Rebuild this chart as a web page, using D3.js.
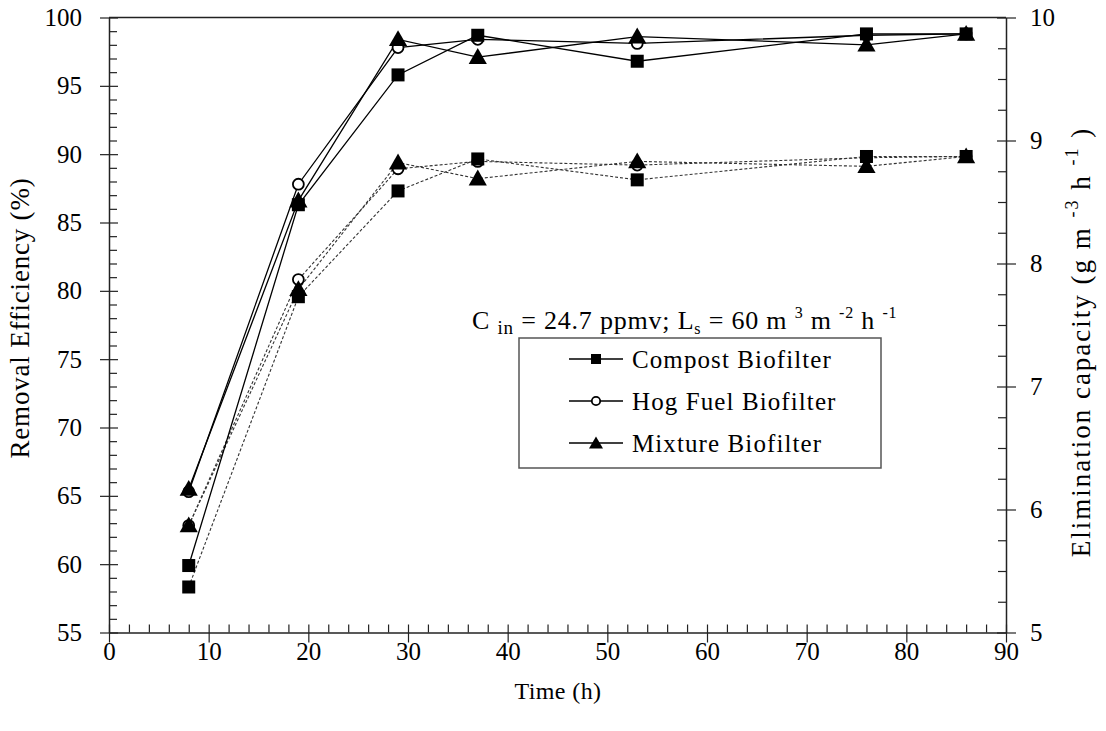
<!DOCTYPE html>
<html>
<head>
<meta charset="utf-8">
<script src="https://cdn.jsdelivr.net/npm/d3@7"></script>
<style>
  body { margin: 0; background: #fff; }
  svg text { font-family: "Liberation Serif", "DejaVu Serif", serif; fill: #000; }
  .axis path, .axis line { stroke: #222; }
</style>
</head>
<body>
<svg id="chart" width="1106" height="731"></svg>
<script>
// time of sampling (h)
var timeH = [8, 19, 29, 37, 53, 76, 86];

// removal efficiency (%) - solid lines, left axis
var reCompost = [59.9, 86.3, 95.8, 98.7, 96.8, 98.8, 98.8];
var reHogFuel = [65.3, 87.8, 97.8, 98.4, 98.1, 98.7, 98.8];
var reMixture = [65.5, 86.6, 98.4, 97.1, 98.6, 98.0, 98.8];

// elimination capacity (g m-3 h-1) - dashed lines, right axis
var ecCompost = [5.37, 7.73, 8.59, 8.85, 8.68, 8.87, 8.87];
var ecHogFuel = [5.87, 7.87, 8.77, 8.83, 8.80, 8.86, 8.87];
var ecMixture = [5.87, 7.79, 8.82, 8.69, 8.83, 8.79, 8.87];

var seriesNames = ["Compost Biofilter", "Hog Fuel Biofilter", "Mixture Biofilter"];
var seriesMarks = ["square", "circle", "triangle"];

var xTicks = d3.range(0, 91, 10);
var yLeftTicks = d3.range(55, 101, 5);
var yRightTicks = d3.range(5, 11, 1);

var serif = '"Liberation Serif", "Times New Roman", serif';
var svg = d3.select("#chart");
var pLeft = 109, pRight = 1006, pTop = 17.5, pBottom = 632.5;

var x = d3.scaleLinear().domain([0, 90]).range([pLeft, pRight]);
var yL = d3.scaleLinear().domain([55, 100]).range([pBottom, pTop]);
var yR = d3.scaleLinear().domain([5, 10]).range([pBottom, pTop]);

// frame top
svg.append("line")
    .attr("x1", pLeft).attr("x2", pRight)
    .attr("y1", pTop).attr("y2", pTop)
    .attr("stroke", "#222").attr("stroke-width", 1.3);

// minor ticks (inward)
svg.append("g").attr("class", "axis")
    .attr("transform", `translate(${pLeft},0)`)
    .call(d3.axisLeft(yL).tickValues(d3.range(55, 100, 1).filter(d => d % 5 != 0))
        .tickSize(-8).tickFormat("").tickSizeOuter(0))
    .select(".domain").remove();
svg.append("g").attr("class", "axis")
    .attr("transform", `translate(0,${pBottom})`)
    .call(d3.axisBottom(x).tickValues(d3.range(0, 90, 2).filter(d => d % 10 != 0))
        .tickSize(-8).tickFormat("").tickSizeOuter(0))
    .select(".domain").remove();
svg.append("g").attr("class", "axis")
    .attr("transform", `translate(${pRight},0)`)
    .call(d3.axisRight(yR).tickValues(d3.range(5, 10, 0.25).filter(d => d % 1 != 0))
        .tickSize(-8).tickFormat("").tickSizeOuter(0))
    .select(".domain").remove();

// major axes
var gL = svg.append("g").attr("class", "axis")
    .attr("transform", `translate(${pLeft},0)`)
    .call(d3.axisLeft(yL).tickValues(yLeftTicks).tickSize(9).tickPadding(18).tickSizeOuter(0));
gL.selectAll(".tick line").attr("x1", 9);

var gB = svg.append("g").attr("class", "axis")
    .attr("transform", `translate(0,${pBottom})`)
    .call(d3.axisBottom(x).tickValues(xTicks).tickSize(10).tickPadding(2).tickSizeOuter(0));
gB.selectAll(".tick line").attr("y1", -8);
gB.selectAll(".tick text").attr("y", 10);

var gR = svg.append("g").attr("class", "axis")
    .attr("transform", `translate(${pRight},0)`)
    .call(d3.axisRight(yR).tickValues(yRightTicks).tickFormat(d3.format("d"))
        .tickSize(10).tickPadding(14).tickSizeOuter(0));
gR.selectAll(".tick line").attr("x1", -9);

svg.selectAll(".axis text")
    .style("font-family", serif)
    .style("font-size", "25px").attr("fill", "#000");
svg.selectAll(".axis path.domain").attr("stroke-width", 1.5);
svg.selectAll(".axis .tick line").attr("stroke-width", 1.2);

// axis titles
svg.append("text")
    .attr("transform", `translate(29,318) rotate(-90)`)
    .attr("text-anchor", "middle")
    .style("font-family", serif)
    .style("font-size", "27px")
    .style("letter-spacing", "0.8px")
    .text("Removal Efficiency (%)");

svg.append("text")
    .attr("x", 558).attr("y", 699)
    .attr("text-anchor", "middle")
    .style("font-family", serif)
    .style("font-size", "24px")
    .style("letter-spacing", "0.4px")
    .text("Time (h)");

var rt = svg.append("text")
    .attr("transform", `translate(1090,342) rotate(-90)`)
    .attr("text-anchor", "middle")
    .style("font-family", serif)
    .style("font-size", "27px")
    .style("letter-spacing", "2px");
rt.append("tspan").text("Elimination capacity (g m ");
rt.append("tspan").attr("dy", -12).style("font-size", "18px").text("-3");
rt.append("tspan").attr("dy", 12).text("  h ");
rt.append("tspan").attr("dy", -12).style("font-size", "18px").text("-1");
rt.append("tspan").attr("dy", 12).text("  )");

// marker drawing
function drawMark(g, type, cx, cy, s) {
    if (type == "square") {
        g.append("rect")
            .attr("x", cx - s / 2).attr("y", cy - s / 2)
            .attr("width", s).attr("height", s)
            .attr("fill", "#000");
    } else if (type == "circle") {
        g.append("circle")
            .attr("cx", cx).attr("cy", cy).attr("r", s * 0.42)
            .attr("fill", "#fff").attr("stroke", "#000").attr("stroke-width", 1.8);
    } else {
        var sym = d3.symbol().type(d3.symbolTriangle).size(s * s * 0.85);
        g.append("path")
            .attr("transform", `translate(${cx},${cy + 1.5})`)
            .attr("d", sym())
            .attr("fill", "#000");
    }
}

var reSeries = [reCompost, reHogFuel, reMixture];
var ecSeries = [ecCompost, ecHogFuel, ecMixture];
var drawOrder = [1, 0, 2]; // circles under squares, triangles on top

var lineL = d3.line().x(d => x(d[0])).y(d => yL(d[1]));
var lineR = d3.line().x(d => x(d[0])).y(d => yR(d[1]));

var plot = svg.append("g");
// dashed lines (elimination capacity)
ecSeries.forEach(function(vals) {
    plot.append("path")
        .datum(d3.zip(timeH, vals))
        .attr("d", lineR)
        .attr("fill", "none")
        .attr("stroke", "#333")
        .attr("stroke-width", 1.1)
        .attr("stroke-dasharray", "3,2");
});
// solid lines (removal efficiency)
reSeries.forEach(function(vals) {
    plot.append("path")
        .datum(d3.zip(timeH, vals))
        .attr("d", lineL)
        .attr("fill", "none")
        .attr("stroke", "#000")
        .attr("stroke-width", 1.3);
});
// markers
drawOrder.forEach(function(i) {
    timeH.forEach(function(t, j) {
        drawMark(plot, seriesMarks[i], x(t), yR(ecSeries[i][j]), 13);
        drawMark(plot, seriesMarks[i], x(t), yL(reSeries[i][j]), 13);
    });
});

// annotation
var ann = svg.append("text")
    .attr("x", 472).attr("y", 329)
    .style("font-family", serif)
    .style("font-size", "26px")
    .style("letter-spacing", "0.8px");
ann.append("tspan").text("C ");
ann.append("tspan").attr("dy", 5).style("font-size", "19px").text("in");
ann.append("tspan").attr("dy", -5).text(" = 24.7 ppmv; L");
ann.append("tspan").attr("dy", 5).style("font-size", "16px").text("s");
ann.append("tspan").attr("dy", -5).text(" = 60 m ");
ann.append("tspan").attr("dy", -11).style("font-size", "16px").text("3");
ann.append("tspan").attr("dy", 11).text("  m ");
ann.append("tspan").attr("dy", -11).style("font-size", "16px").text("-2");
ann.append("tspan").attr("dy", 11).text("  h ");
ann.append("tspan").attr("dy", -11).style("font-size", "16px").text("-1");

// legend
var legend = svg.append("g");
legend.append("rect")
    .attr("x", 519).attr("y", 338)
    .attr("width", 362).attr("height", 130)
    .attr("fill", "#fff").attr("stroke", "#555").attr("stroke-width", 1.5);
seriesNames.forEach(function(name, i) {
    var ly = 359 + i * 42;
    legend.append("line")
        .attr("x1", 569).attr("x2", 623)
        .attr("y1", ly).attr("y2", ly)
        .attr("stroke", "#000").attr("stroke-width", 1.3);
    drawMark(legend, seriesMarks[i], 596, ly, 10);
    legend.append("text")
        .attr("x", 632).attr("y", ly + 9)
        .style("font-family", serif)
        .style("font-size", "25px")
        .style("letter-spacing", "1.1px")
        .text(name);
});
</script>
</body>
</html>
